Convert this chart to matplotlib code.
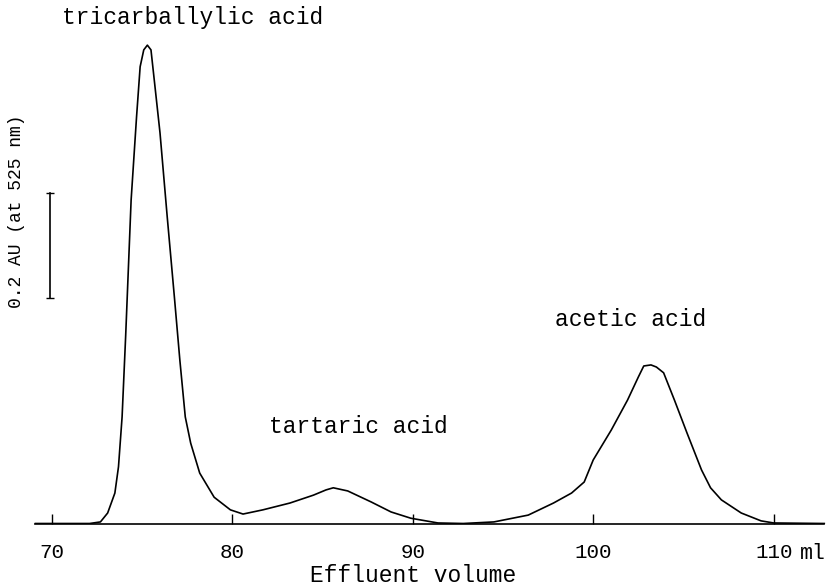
import numpy as np
import matplotlib
matplotlib.use("Agg")
import matplotlib.pyplot as plt

# elution trace: effluent volume (ml) vs absorbance (AU at 525 nm)
volume = [69.1, 72.1, 72.7, 73.1, 73.5, 73.7, 73.9, 74.1, 74.4, 74.7, 74.9,
          75.1, 75.3, 75.5, 75.7, 76.0, 76.4, 76.8, 77.1, 77.4, 77.7, 78.2,
          79.0, 79.9, 80.6, 81.7, 83.2, 84.5, 85.2, 85.6, 86.4, 87.7, 88.8,
          89.9, 91.4, 92.8, 94.5, 96.4, 97.8, 98.8, 99.5, 100.0, 101.0,
          101.9, 102.5, 102.8, 103.2, 103.5, 103.9, 104.5, 105.2, 106.0,
          106.5, 107.1, 108.2, 109.3, 110.0, 112.8]
absorbance = [0.0, 0.0, 0.003, 0.020, 0.058, 0.108, 0.203, 0.359, 0.616,
              0.774, 0.870, 0.902, 0.911, 0.902, 0.839, 0.744, 0.584, 0.430,
              0.311, 0.203, 0.153, 0.096, 0.050, 0.026, 0.018, 0.026, 0.039,
              0.054, 0.064, 0.068, 0.062, 0.041, 0.022, 0.010, 0.001, 0.0,
              0.003, 0.016, 0.039, 0.058, 0.079, 0.121, 0.178, 0.235, 0.279,
              0.300, 0.302, 0.298, 0.287, 0.235, 0.172, 0.102, 0.068, 0.045,
              0.020, 0.005, 0.001, 0.0]

tick_vals = [70, 80, 90, 100, 110]
tick_text = ["70", "80", "90", "100", "110"]

peak_names = ["tricarballylic acid", "tartaric acid", "acetic acid"]
peak_label_x = [77.78, 86.97, 102.09]
peak_label_y = [0.963, 0.184, 0.388]

scale_x = 69.91
scale_lo, scale_hi = 0.43, 0.63   # 0.2 AU bar

mono = "Liberation Mono"
plt.rcParams["font.family"] = [mono, "DejaVu Sans Mono"]

fig = plt.figure(figsize=(8.36, 5.86), dpi=100)
ax = fig.add_axes([0, 62.5 / 586, 1, (586 - 62.5) / 586])
ax.set_xlim(67.136, 113.45)
ax.set_ylim(0, 0.997)

ax.plot(volume, absorbance, color="black", lw=1.2, solid_joinstyle="round")

for side in ["left", "right", "top"]:
    ax.spines[side].set_visible(False)
ax.spines["bottom"].set_bounds(69.07, 112.8)
ax.spines["bottom"].set_linewidth(1.2)
ax.set_yticks([])
ax.set_xticks(tick_vals)
ax.set_xticklabels(tick_text)
ax.tick_params(axis="x", direction="in", length=7, width=1.0,
               pad=14, labelsize=15)
ax.annotate("ml", xy=(111.46, 0), xycoords=("data", "axes fraction"),
            xytext=(0, -14), textcoords="offset points",
            ha="left", va="top", fontsize=15.5)

ax.set_xlabel("Effluent volume", fontsize=16.5)
ax.xaxis.set_label_coords(413 / 836, -0.1)
ax.xaxis.label.set_va("center")

for name, lx, ly in zip(peak_names, peak_label_x, peak_label_y):
    ax.text(lx, ly, name, ha="center", va="center", fontsize=16.5)

# absorbance scale bar
ax.plot([scale_x, scale_x], [scale_lo, scale_hi], color="black", lw=1.2)
ax.plot([scale_x, scale_x], [scale_lo, scale_hi], ls="none",
        marker="_", ms=6, mew=1.0, color="black")
ax.text(68.03, 0.595, "0.2 AU (at 525 nm)", rotation=90,
        ha="center", va="center", fontsize=13)

fig.savefig("out.png", dpi=100, facecolor="white")
